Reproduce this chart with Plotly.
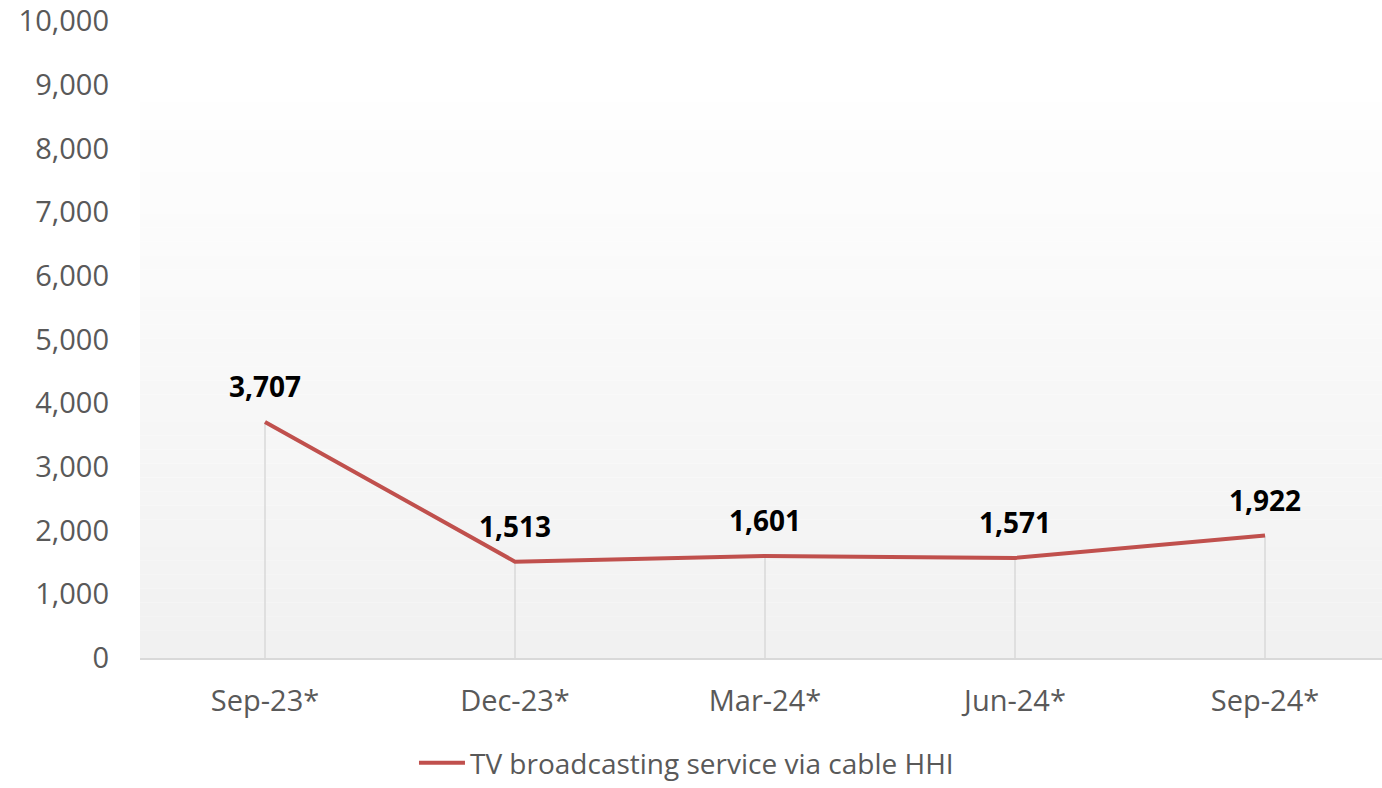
import plotly.graph_objects as go

# Quarterly HHI for TV broadcasting via cable
periods = ["Sep-23*", "Dec-23*", "Mar-24*", "Jun-24*", "Sep-24*"]
hhi_values = [3707, 1513, 1601, 1571, 1922]
series_name = "TV broadcasting service via cable HHI"
y_ticks = list(range(0, 10001, 1000))

LINE_COLOR = "#c0504d"
TEXT_GREY = "#595959"
GRID_GREY = "#d9d9d9"
FONT = "Open Sans"

fig = go.Figure()

# vertical drop lines from each point down to the axis
drop_x, drop_y = [], []
for p, v in zip(periods, hhi_values):
    drop_x += [p, p, None]
    drop_y += [0, v, None]
fig.add_trace(go.Scatter(
    x=drop_x, y=drop_y, mode="lines",
    line=dict(color=GRID_GREY, width=1.5),
    hoverinfo="skip", showlegend=False,
))

fig.add_trace(go.Scatter(
    x=periods, y=hhi_values, mode="lines", name=series_name,
    line=dict(color=LINE_COLOR, width=4),
))

# bold value labels above each point
for p, v in zip(periods, hhi_values):
    fig.add_annotation(
        x=p, y=v, text=f"<b>{v:,}</b>", showarrow=False,
        yshift=36, font=dict(family=FONT, size=28, color="#000000"),
    )

# soft vertical gradient behind the plot area
steps = 40
top, bottom = 0.872, 0.0
for i in range(steps):
    y0 = top - (top - bottom) * i / steps
    y1 = top - (top - bottom) * (i + 1) / steps
    t = (i + 0.5) / steps
    c = round(254 - (254 - 241) * t)
    fig.add_shape(
        type="rect", xref="paper", yref="paper",
        x0=0, x1=1, y0=y1, y1=y0,
        fillcolor=f"rgb({c},{c},{c})", line=dict(width=0), layer="below",
    )

fig.update_layout(
    width=1382, height=788,
    margin=dict(l=140, r=0, t=21, b=130, autoexpand=False),
    paper_bgcolor="white", plot_bgcolor="white",
    font=dict(family=FONT, color=TEXT_GREY),
    showlegend=True,
    legend=dict(
        orientation="h", x=0.44, xanchor="center", y=-0.204, yanchor="bottom",
        font=dict(family=FONT, size=28, color=TEXT_GREY),
        itemwidth=46, bgcolor="rgba(0,0,0,0)",
    ),
    xaxis=dict(
        range=[-0.5, 4.468], showgrid=False, zeroline=False,
        showline=True, linecolor=GRID_GREY, linewidth=1.5,
        tickfont=dict(family=FONT, size=29, color=TEXT_GREY),
        ticks="", ticklabelstandoff=16,
    ),
    yaxis=dict(
        range=[0, 10000.5], tickvals=y_ticks,
        ticktext=[f"{t:,}" for t in y_ticks],
        showgrid=False, zeroline=False, showline=False,
        tickfont=dict(family=FONT, size=29, color=TEXT_GREY),
        ticks="", ticklabelstandoff=30, ticklabeloverflow="allow",
    ),
)

fig.write_html("out.html")
